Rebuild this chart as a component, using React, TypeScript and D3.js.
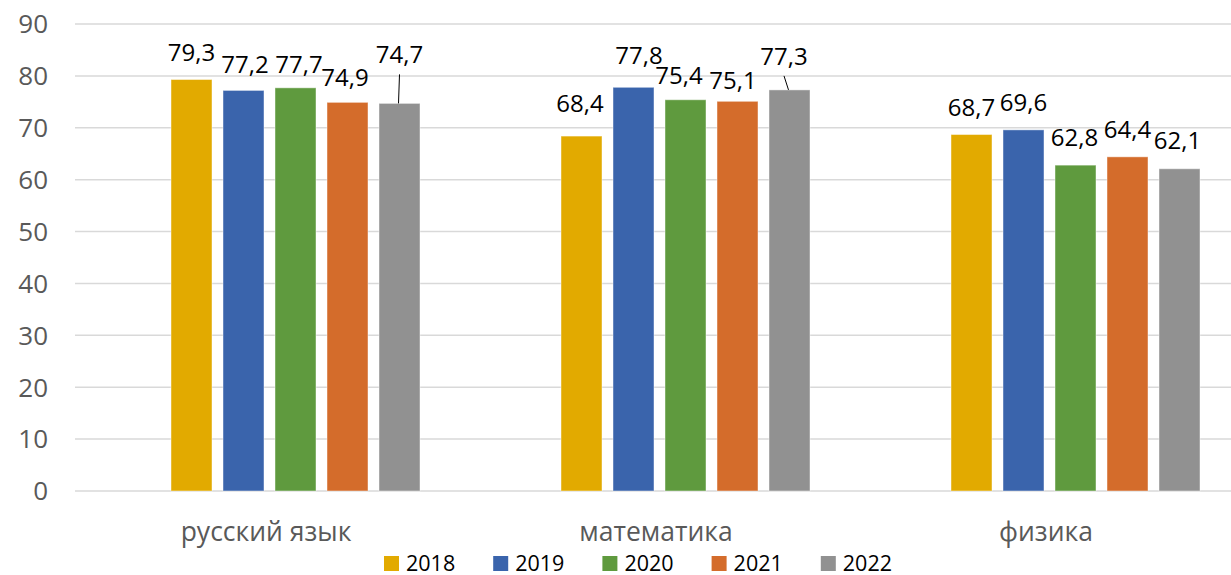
import * as d3 from "d3";

const categories = ["русский язык", "математика", "физика"];
const years = ["2018", "2019", "2020", "2021", "2022"];
const values2018 = [79.3, 68.4, 68.7];
const values2019 = [77.2, 77.8, 69.6];
const values2020 = [77.7, 75.4, 62.8];
const values2021 = [74.9, 75.1, 64.4];
const values2022 = [74.7, 77.3, 62.1];
const yTicks = [0, 10, 20, 30, 40, 50, 60, 70, 80, 90];

const seriesValues = [values2018, values2019, values2020, values2021, values2022];
const colors = ["#E2AA00", "#3A64AC", "#5F9A3E", "#D46C2B", "#919191"];

// manual label nudges (dx, dy) per [year][category], like in the source chart
const labelNudge: [number, number][][] = [
  [[0, 0], [-1.5, -5], [0, 0]],
  [[1.5, 2], [5.5, -4], [0, 0]],
  [[3.5, 4], [-6.5, 3], [-1, 0]],
  [[-2.5, 3], [-4.5, 7], [0, 0]],
  [[0, -21], [-5.5, -6], [-2, -1]],
];
// labels that got dragged away and show a leader line
const leaders = ["2022|русский язык", "2022|математика"];

const width = 1231;
const height = 575;
const fontFamily = "'Open Sans', 'Noto Sans', sans-serif";

export default function App() {
  const x0 = d3.scaleBand().domain(categories).range([100.5, 1270.5]);
  const x1 = d3
    .scaleBand()
    .domain(years)
    .range([65, 325])
    .paddingInner(11 / 52)
    .paddingOuter(11 / 104);
  const y = d3.scaleLinear().domain([0, 90]).range([491, 24]);

  const fmt = (v: number) => v.toFixed(1).replace(".", ",");

  return (
    <div style={{ position: "fixed", left: 0, top: 0 }}>
      <svg width={width} height={height} style={{ background: "#fff" }} fontFamily={fontFamily}>
        {/* gridlines */}
        {yTicks.map((t) => (
          <g key={t}>
            <line x1={75} x2={width} y1={y(t)} y2={y(t)} stroke="#d9d9d9" strokeWidth={1.5} />
            <text x={48} y={y(t)} dy="0.36em" textAnchor="end" fontSize={26} fill="#595959">
              {t}
            </text>
          </g>
        ))}

        {/* bars */}
        {years.map((yr, si) =>
          categories.map((cat, ci) => {
            const v = seriesValues[si][ci];
            const bx = x0(cat)! + x1(yr)!;
            return (
              <rect
                key={yr + cat}
                x={bx}
                y={y(v)}
                width={x1.bandwidth()}
                height={y(0) - y(v)}
                fill={colors[si]}
                stroke="#ffffff"
                strokeOpacity={0.45}
                strokeWidth={1}
              />
            );
          })
        )}

        {/* data labels */}
        {years.map((yr, si) =>
          categories.map((cat, ci) => {
            const v = seriesValues[si][ci];
            const cx = x0(cat)! + x1(yr)! + x1.bandwidth() / 2;
            const [dx, dy] = labelNudge[si][ci];
            const lx = cx + dx;
            const ly = y(v) - 19 + dy;
            const needLeader = leaders.includes(yr + "|" + cat);
            return (
              <g key={"l" + yr + cat}>
                {needLeader && (
                  <line
                    x1={lx}
                    y1={ly + 11}
                    x2={cx - 1}
                    y2={y(v)}
                    stroke="#000"
                    strokeWidth={1}
                  />
                )}
                <text x={lx} y={ly} textAnchor="middle" fontSize={24} fill="#000">
                  {fmt(v)}
                </text>
              </g>
            );
          })
        )}

        {/* category labels */}
        {categories.map((cat) => (
          <text
            key={cat}
            x={x0(cat)! + x0.bandwidth() / 2 - 29.5}
            y={541}
            textAnchor="middle"
            fontSize={26.5}
            fill="#595959"
          >
            {cat}
          </text>
        ))}

        {/* legend */}
        {years.map((yr, i) => (
          <g key={"leg" + yr} transform={`translate(${384 + i * 109.2},556)`}>
            <rect width={15} height={15} fill={colors[i]} />
            <text x={22} y={14.5} fontSize={21.5} fill="#000">
              {yr}
            </text>
          </g>
        ))}
      </svg>
    </div>
  );
}
